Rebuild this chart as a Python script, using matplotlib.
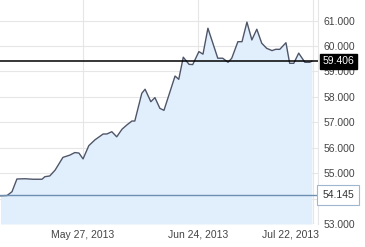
import numpy as np
import pandas as pd
import matplotlib
matplotlib.use('Agg')
import matplotlib.pyplot as plt
import matplotlib.dates as mdates
import matplotlib.transforms as mtransforms

# data: days since 2013-05-07 and rate
start = pd.Timestamp('2013-05-07')
days = [0.0, 1.6, 2.8, 4.0, 6.0, 7.9, 10.1, 10.8, 12.0, 13.3, 15.2, 16.9, 18.1, 19.1,
        20.1, 21.5, 23.0, 25.0, 25.9, 27.1, 28.3, 29.6, 30.8, 32.0, 32.7, 34.4, 35.2,
        36.6, 37.6, 38.8, 39.8, 42.5, 43.4, 44.5, 45.9, 46.8, 48.3, 49.3, 50.5, 51.7,
        52.9, 54.1, 55.4, 56.3, 57.8, 58.8, 60.0, 61.2, 62.4, 63.6, 64.8, 66.1, 67.0,
        68.0, 69.5, 70.4, 71.4, 72.6, 74.1, 75.3, 75.8]
rate = [54.11, 54.12, 54.27, 54.77, 54.78, 54.76, 54.76, 54.86, 54.89, 55.12, 55.62,
        55.71, 55.81, 55.79, 55.56, 56.08, 56.31, 56.54, 56.54, 56.63, 56.43, 56.73,
        56.90, 57.05, 57.05, 58.14, 58.30, 57.81, 57.97, 57.55, 57.47, 58.82, 58.69,
        59.56, 59.28, 59.27, 59.78, 59.68, 60.70, 60.11, 59.52, 59.52, 59.36, 59.52,
        60.17, 60.17, 60.94, 60.24, 60.66, 60.11, 59.91, 59.82, 59.87, 59.87, 60.13,
        59.32, 59.32, 59.72, 59.36, 59.36, 59.406]
last_value = 59.406
base_value = 54.145
y_ticks = [53, 54, 55, 56, 57, 58, 59, 60, 61]
x_ticks = ['2013-05-27', '2013-06-24', '2013-07-22']

dates = mdates.date2num(start) + np.array(days)

plt.rcParams['font.family'] = ['Liberation Sans', 'DejaVu Sans']

fig = plt.figure(figsize=(3.65, 2.47), dpi=100)
ax = fig.add_axes([0, 1 - 224 / 247, 318 / 365, 224 / 247])

ax.fill_between(dates, rate, 53, color='#e0effb', lw=0, zorder=1)
ax.plot(dates, rate, color='#4f5569', lw=1.0, zorder=3)

x0 = mdates.date2num(start)
ax.set_xlim(x0 - 0.12, x0 + 77.3)
ax.set_ylim(53, 61.81)

ax.set_yticks(y_ticks)
# the 54 label sits under the base value box
ax.set_yticklabels(['' if v == 54 else '%.3f' % v for v in y_ticks])
ax.yaxis.tick_right()
xt = [mdates.date2num(pd.Timestamp(d)) for d in x_ticks]
ax.set_xticks(xt)
ax.set_xticklabels([pd.Timestamp(d).strftime('%b %d, %Y') for d in x_ticks])
ax.tick_params(axis='both', length=0, labelsize=7.5, labelcolor='#444444')
ax.tick_params(axis='y', pad=4)
ax.tick_params(axis='x', pad=4)
lbls = ax.get_xticklabels()
lbls[-1].set_horizontalalignment('right')
lbls[-1].set_transform(lbls[-1].get_transform() + mtransforms.ScaledTranslation(6 / 100, 0, fig.dpi_scale_trans))

ax.grid(True, color='#e6e6e6', lw=0.8, zorder=0)
ax.set_axisbelow(True)
for s in ['top', 'left', 'bottom']:
    ax.spines[s].set_visible(False)
ax.spines['right'].set_color('#e6e6e6')
ax.spines['right'].set_linewidth(0.8)

# base line and last value markers
ax.axhline(base_value, color='#6d8fb3', lw=1.0, zorder=4)
ax.axhline(last_value, color='black', lw=1.1, zorder=4)
ax.annotate('%.3f' % last_value, xy=(1, last_value), xycoords=('axes fraction', 'data'),
            xytext=(3, 0), textcoords='offset points', ha='left', va='center',
            fontsize=7.5, color='white', zorder=10, annotation_clip=False,
            bbox=dict(boxstyle='square,pad=0.25', fc='black', ec='black'))
ax.annotate('%.3f' % base_value, xy=(1, base_value), xycoords=('axes fraction', 'data'),
            xytext=(3, 0), textcoords='offset points', ha='left', va='center',
            fontsize=7.5, color='#333333', zorder=10, annotation_clip=False,
            bbox=dict(boxstyle='square,pad=0.45', fc='white', ec='#9fb6cf', lw=0.8))

plt.savefig('out.png', dpi=100)
